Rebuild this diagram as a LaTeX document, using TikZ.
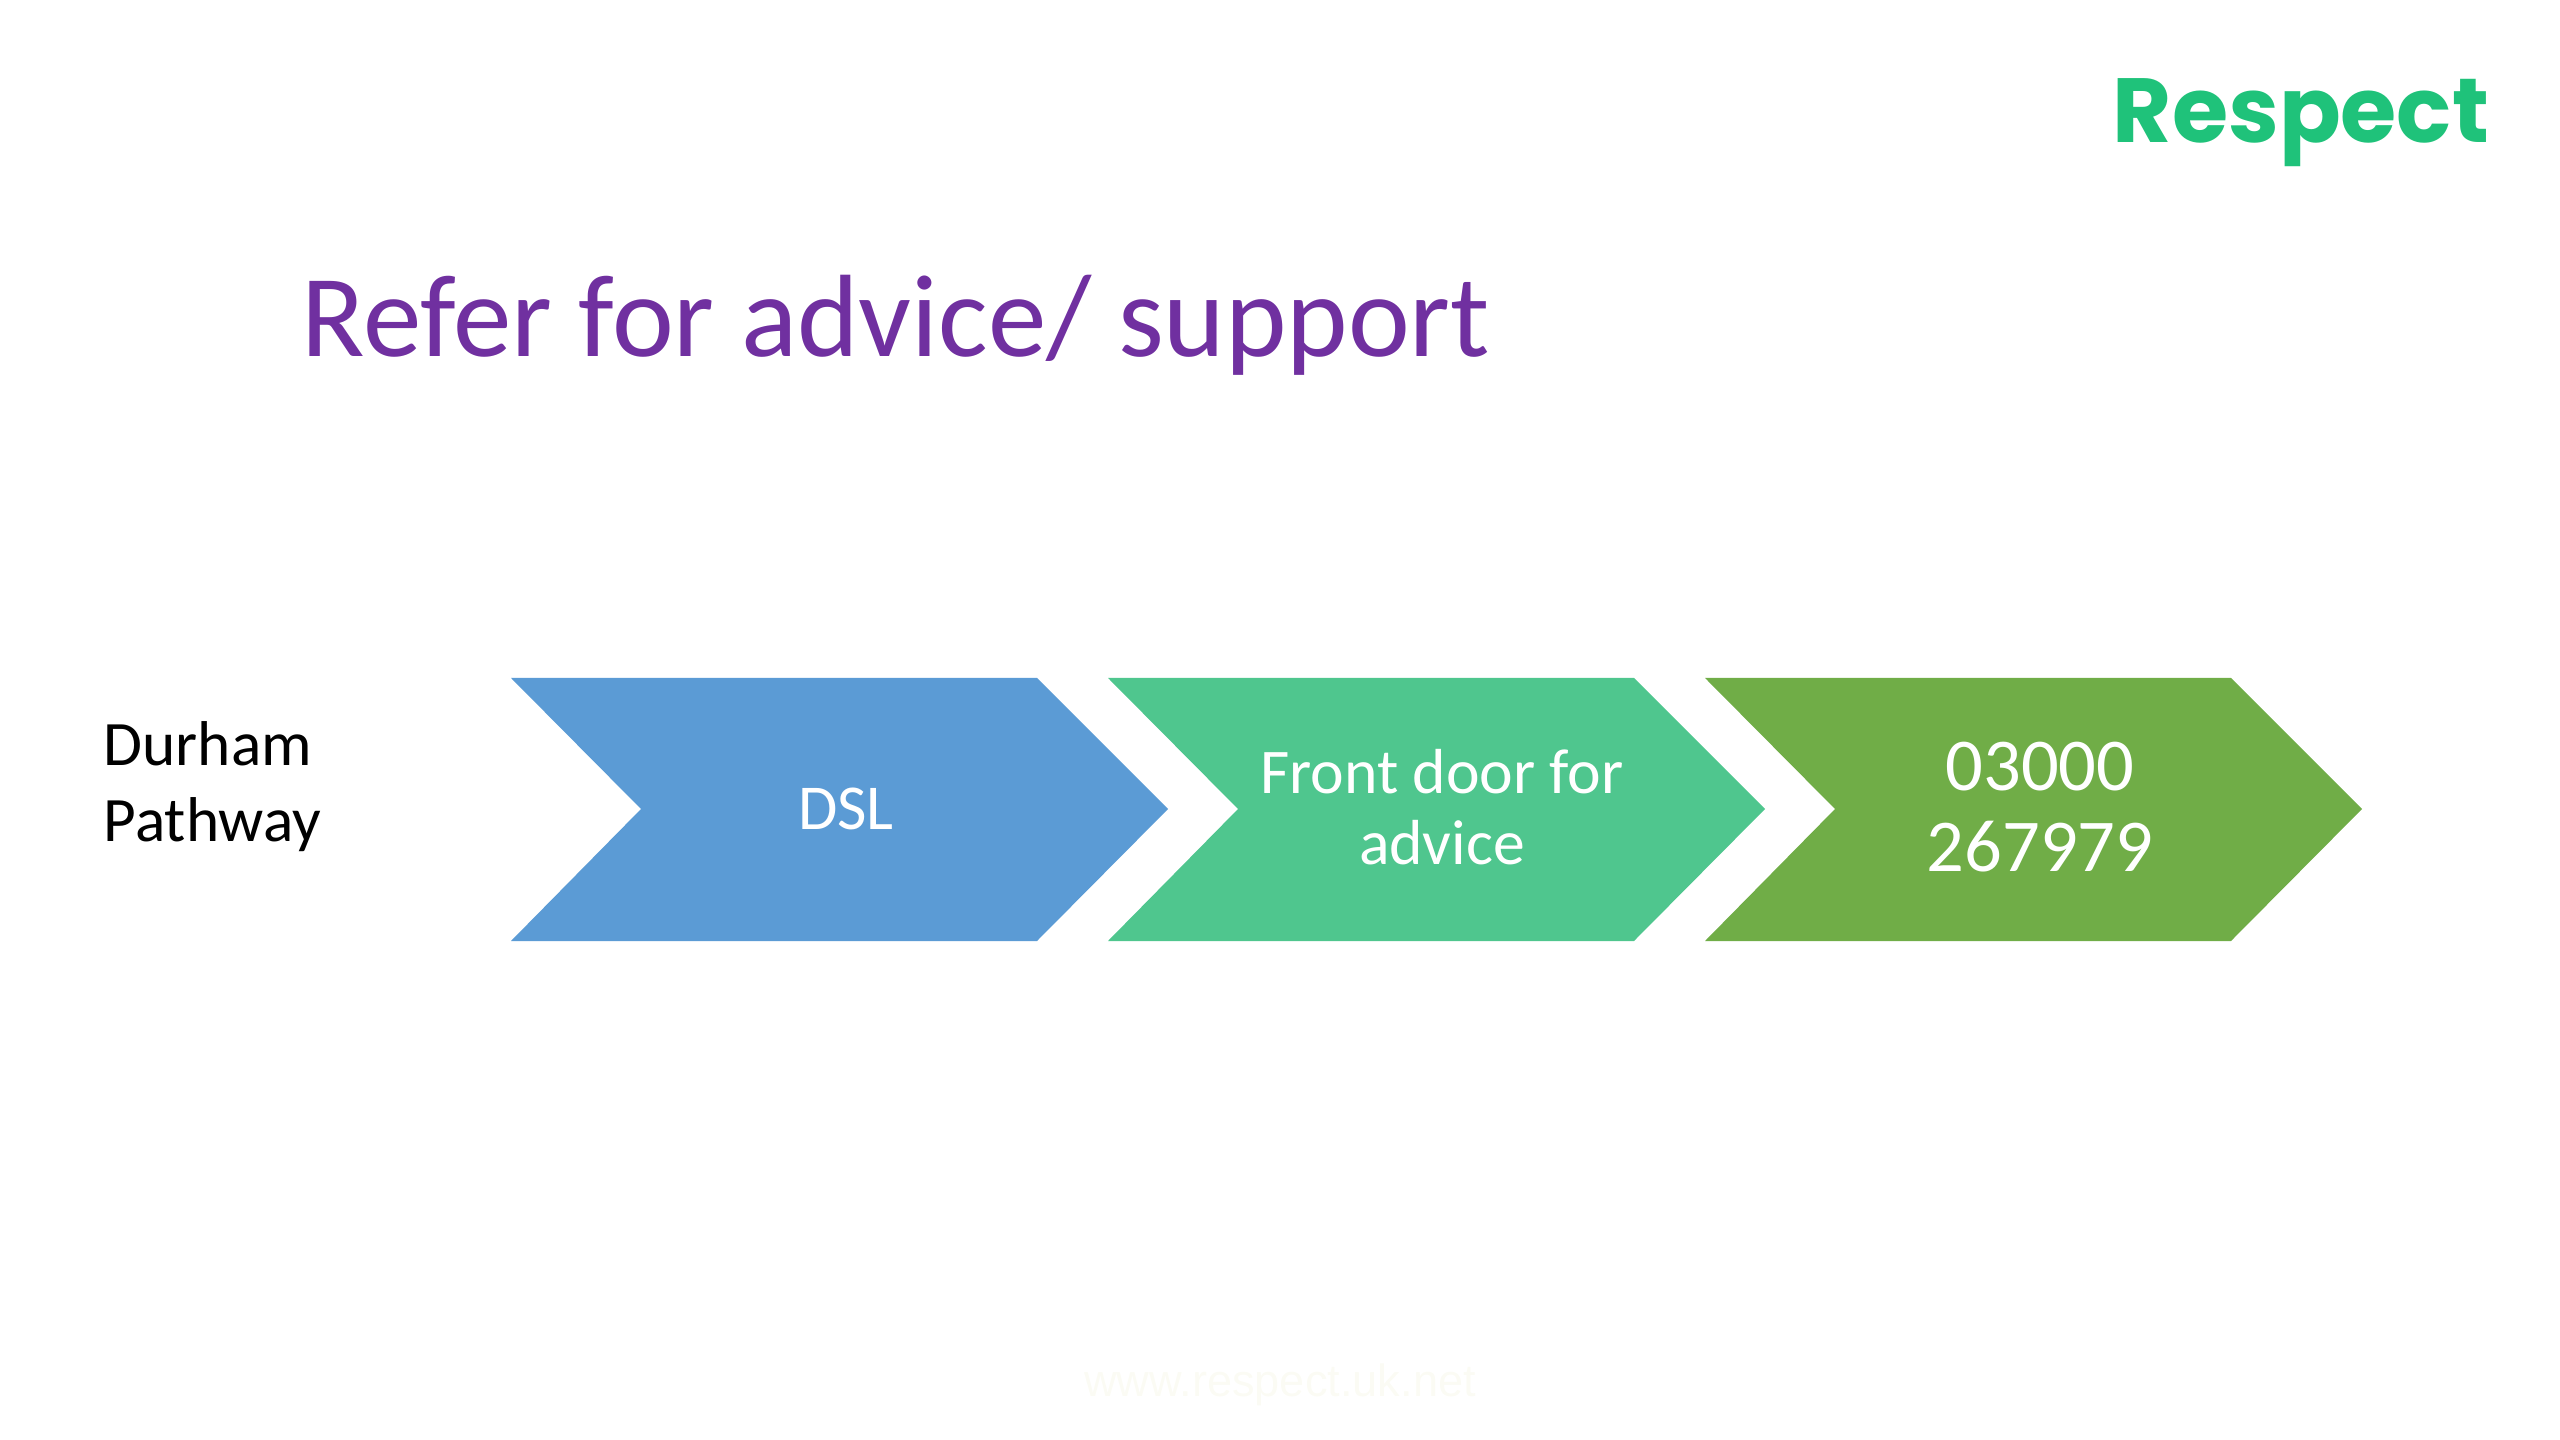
\documentclass[tikz,border=0pt]{standalone}
\usepackage{fontspec}
\setmainfont{Carlito}
\newfontfamily\logofont{Poppins}
\newfontfamily\webfont{Liberation Sans}
\definecolor{titlepurple}{HTML}{7030A0}
\definecolor{chevblue}{HTML}{5B9BD5}
\definecolor{chevteal}{HTML}{4FC68E}
\definecolor{chevgreen}{HTML}{70AD47}
\definecolor{logogreen}{HTML}{1FC27A}
\definecolor{webgrey}{HTML}{FBFBF4}
\tikzset{
  chevtext/.style={text=white,align=center,inner sep=0pt},
}
\begin{document}
\begin{tikzpicture}[x=0.01cm,y=-0.01cm]
        \useasboundingbox (0,0) rectangle (2560,1440);
        % title and logo
        \node[anchor=base west,inner sep=0pt,text=titlepurple,font=\fontsize{33.3}{38}\selectfont] (title) at (301,357) {Refer for advice/ support};
        \node[anchor=base west,inner sep=0pt,text=logogreen,font=\logofont\bfseries\fontsize{25.9}{30}\selectfont] (logo) at (2112,143) {Respect};
        % left label
        \node[anchor=base west,inner sep=0pt,align=left,font=\fontsize{18}{21.8}\selectfont] (region) at (103,842) {Durham\\Pathway};
        % chevrons
        \foreach \x/\col in {0/chevblue,597/chevteal,1194/chevgreen}{
            \fill[\col] (511+\x,678)--(1037+\x,678)--(1168+\x,809)--(1037+\x,941)--(511+\x,941)--(641+\x,809)--cycle;
        }
        \node[chevtext,font=\fontsize{18.2}{20}\selectfont] (dsl) at (846,809) {DSL};
        \node[chevtext,font=\fontsize{18.1}{20}\selectfont] (door) at (1442,807) {Front door for\\advice};
        \node[chevtext,font=\fontsize{21.2}{23}\selectfont] (phone) at (2040,807) {03000\\267979};
        % footer
        \node[anchor=base,inner sep=0pt,text=webgrey,font=\webfont\fontsize{12.85}{15}\selectfont] (web) at (1280,1396) {www.respect.uk.net};
    \end{tikzpicture}
\end{document}
